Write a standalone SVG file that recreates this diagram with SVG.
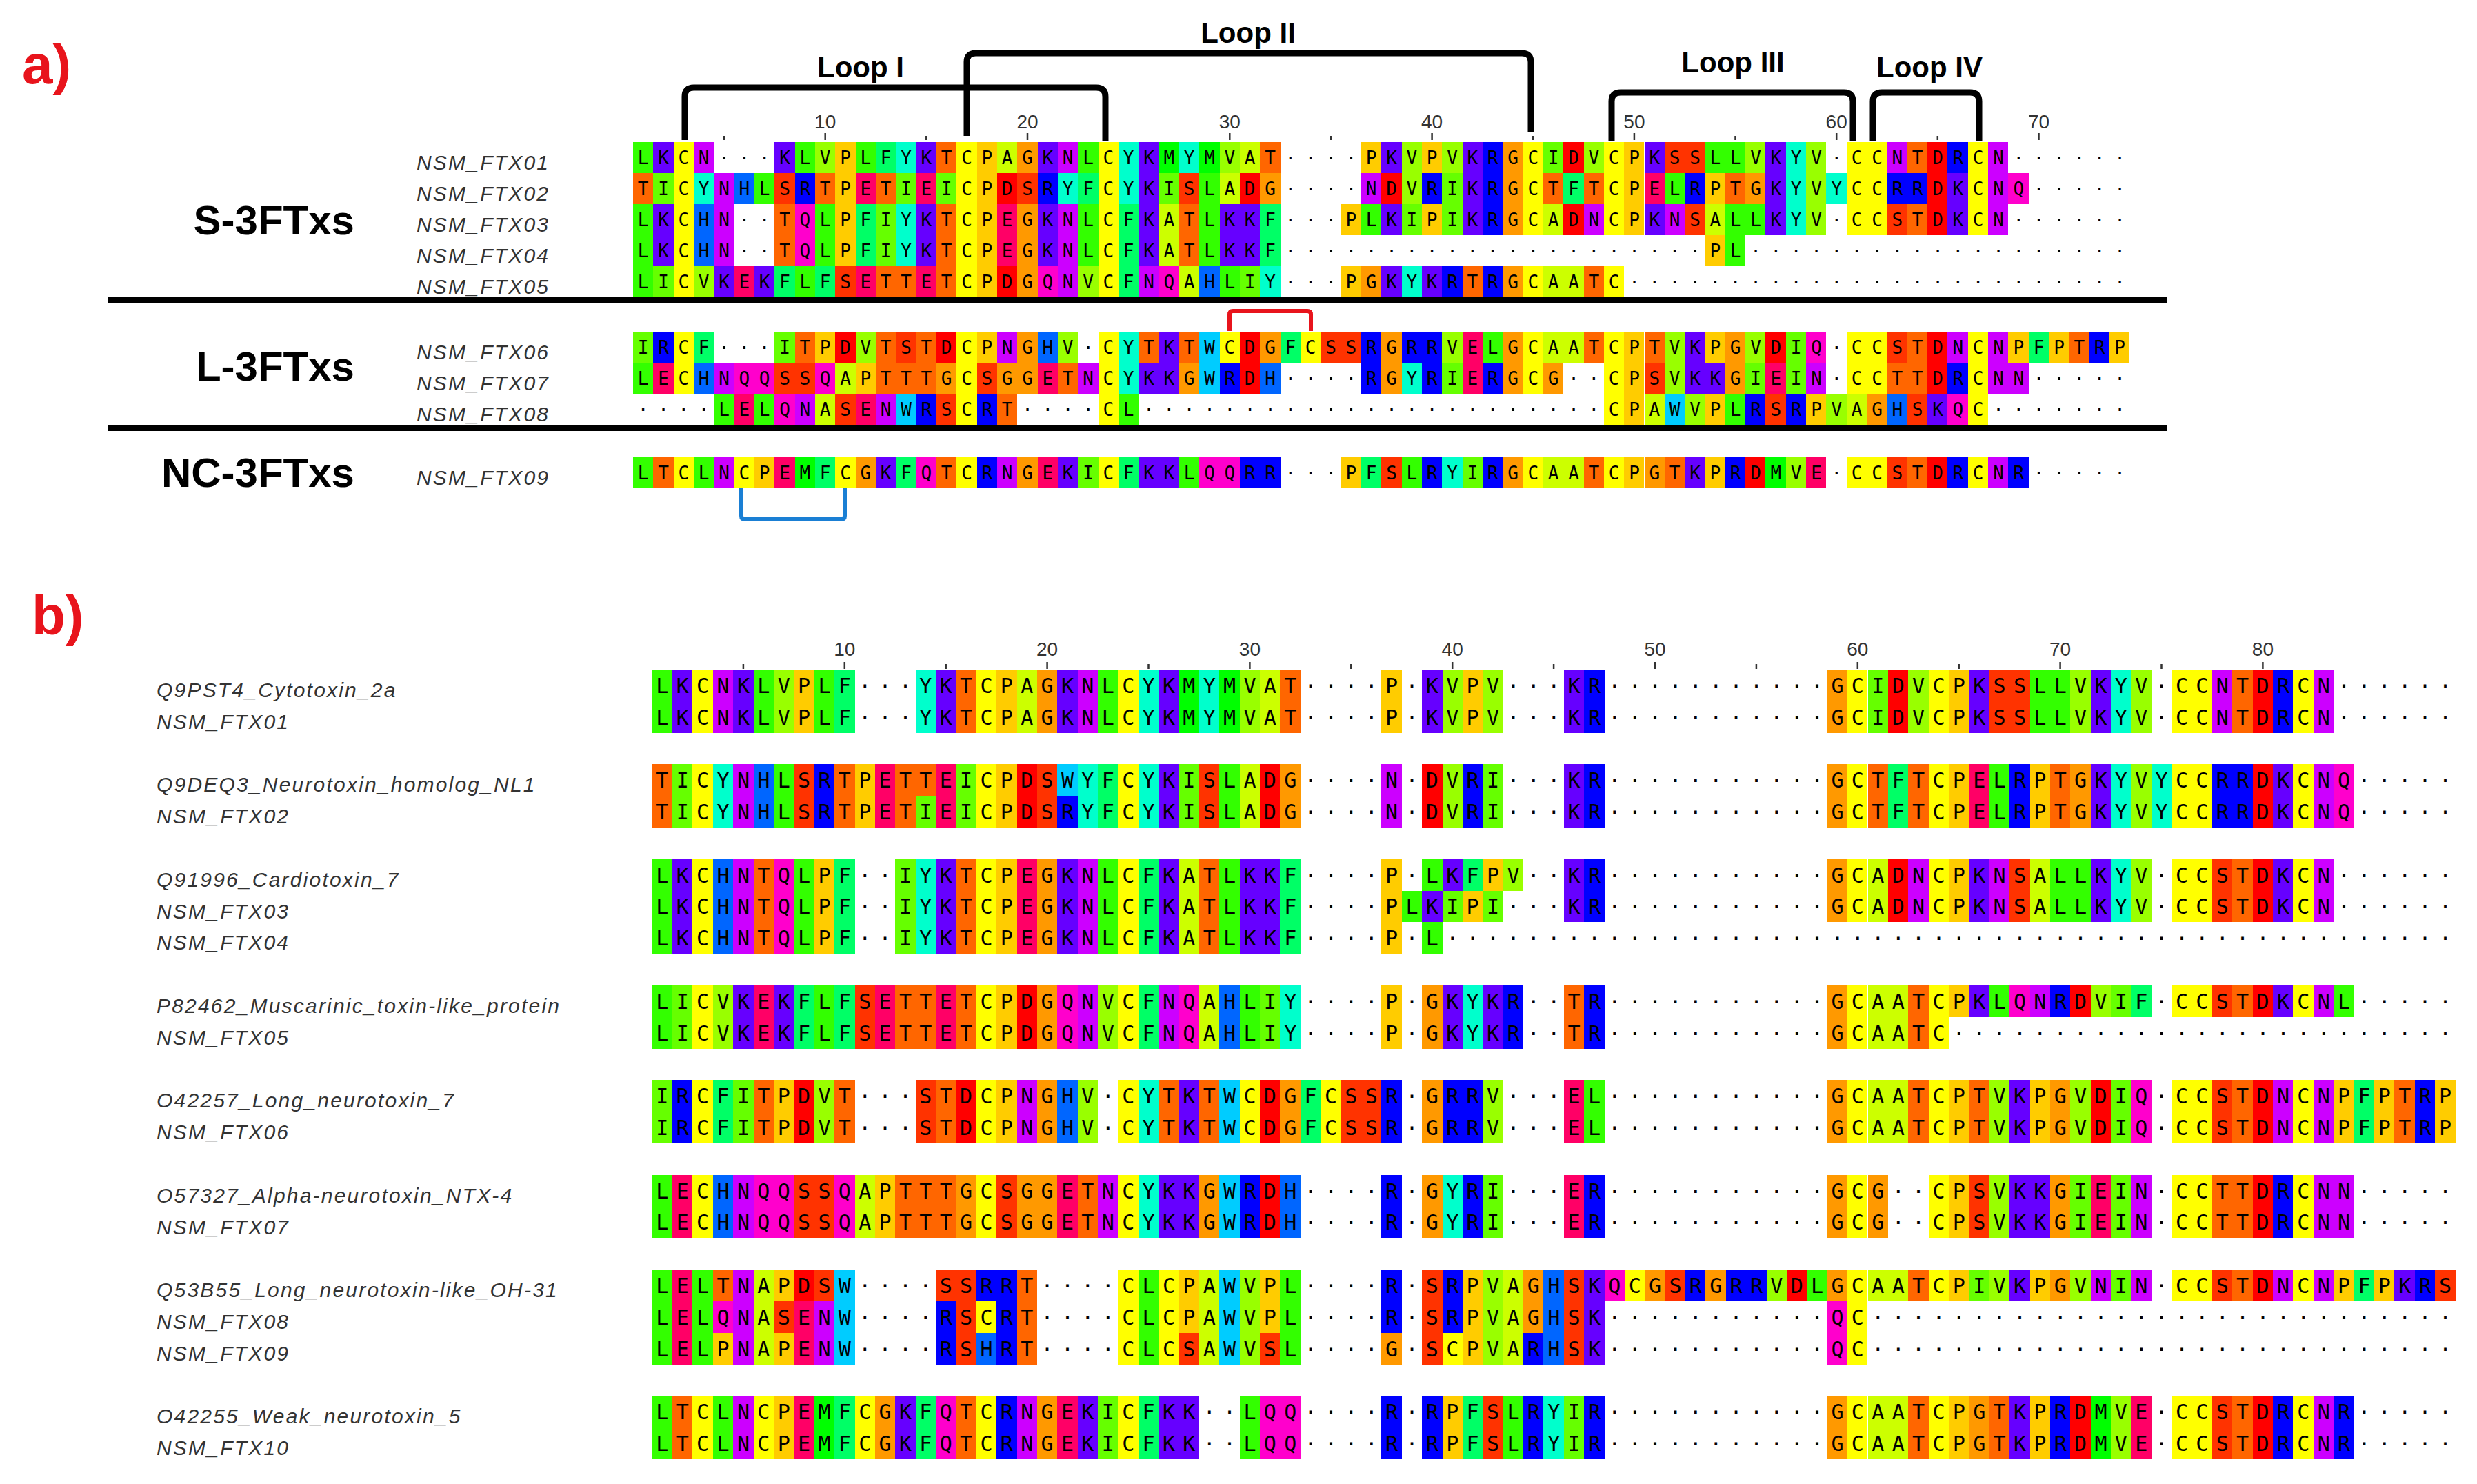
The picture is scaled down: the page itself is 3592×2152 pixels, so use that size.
<svg xmlns="http://www.w3.org/2000/svg" width="3592" height="2152" viewBox="0 0 3592 2152">
<style>
.lab{font-family:"Liberation Sans",Arial,sans-serif;font-style:italic;font-size:30px;letter-spacing:2.2px;fill:#333}
.grp{font-family:"Liberation Sans",Arial,sans-serif;font-weight:bold;font-size:60px;fill:#000;text-anchor:end}
.loop{font-family:"Liberation Sans",Arial,sans-serif;font-weight:bold;font-size:42px;fill:#000;text-anchor:middle}
.num{font-family:"Liberation Sans",Arial,sans-serif;font-size:28px;fill:#333;text-anchor:middle}
.pl{font-family:"Liberation Sans",Arial,sans-serif;font-weight:bold;font-size:80px;fill:#e8141c}
.sa{font-family:"DejaVu Sans Mono",monospace;font-size:26px;letter-spacing:13.68px;fill:#000}
.sb{font-family:"DejaVu Sans Mono",monospace;font-size:30px;letter-spacing:11.32px;fill:#000}
.br{fill:none;stroke:#000;stroke-width:9}
.tk{fill:none;stroke:#333;stroke-width:2.5}
</style>
<defs>
<rect id="A" width="1" height="1" fill="#CCFF00"/>
<rect id="R" width="1" height="1" fill="#0000FF"/>
<rect id="N" width="1" height="1" fill="#CC00FF"/>
<rect id="D" width="1" height="1" fill="#FF0000"/>
<rect id="C" width="1" height="1" fill="#FFFF00"/>
<rect id="Q" width="1" height="1" fill="#FF00CC"/>
<rect id="E" width="1" height="1" fill="#FF0066"/>
<rect id="G" width="1" height="1" fill="#FF9900"/>
<rect id="H" width="1" height="1" fill="#0066FF"/>
<rect id="I" width="1" height="1" fill="#66FF00"/>
<rect id="L" width="1" height="1" fill="#33FF00"/>
<rect id="K" width="1" height="1" fill="#6600FF"/>
<rect id="M" width="1" height="1" fill="#00FF00"/>
<rect id="F" width="1" height="1" fill="#00FF66"/>
<rect id="P" width="1" height="1" fill="#FFCC00"/>
<rect id="S" width="1" height="1" fill="#FF3300"/>
<rect id="T" width="1" height="1" fill="#FF6600"/>
<rect id="W" width="1" height="1" fill="#00CCFF"/>
<rect id="Y" width="1" height="1" fill="#00FFCC"/>
<rect id="V" width="1" height="1" fill="#99FF00"/>
</defs>
<rect width="3592" height="2152" fill="#fff"/>

<g id="panel-a">
<text class="pl" x="32" y="121">a)</text>
<g id="cells-a" transform="translate(918,206) scale(29.33,45)" shape-rendering="crispEdges">
<g id="a1"><use href="#L" x="0"/><use href="#K" x="1"/><use href="#C" x="2"/><use href="#N" x="3"/><use href="#K" x="7"/><use href="#L" x="8"/><use href="#V" x="9"/><use href="#P" x="10"/><use href="#L" x="11"/><use href="#F" x="12"/><use href="#Y" x="13"/><use href="#K" x="14"/><use href="#T" x="15"/><use href="#C" x="16"/><use href="#P" x="17"/><use href="#A" x="18"/><use href="#G" x="19"/><use href="#K" x="20"/><use href="#N" x="21"/><use href="#L" x="22"/><use href="#C" x="23"/><use href="#Y" x="24"/><use href="#K" x="25"/><use href="#M" x="26"/><use href="#Y" x="27"/><use href="#M" x="28"/><use href="#V" x="29"/><use href="#A" x="30"/><use href="#T" x="31"/><use href="#P" x="36"/><use href="#K" x="37"/><use href="#V" x="38"/><use href="#P" x="39"/><use href="#V" x="40"/><use href="#K" x="41"/><use href="#R" x="42"/><use href="#G" x="43"/><use href="#C" x="44"/><use href="#I" x="45"/><use href="#D" x="46"/><use href="#V" x="47"/><use href="#C" x="48"/><use href="#P" x="49"/><use href="#K" x="50"/><use href="#S" x="51"/><use href="#S" x="52"/><use href="#L" x="53"/><use href="#L" x="54"/><use href="#V" x="55"/><use href="#K" x="56"/><use href="#Y" x="57"/><use href="#V" x="58"/><use href="#C" x="60"/><use href="#C" x="61"/><use href="#N" x="62"/><use href="#T" x="63"/><use href="#D" x="64"/><use href="#R" x="65"/><use href="#C" x="66"/><use href="#N" x="67"/></g>
<g id="a2" transform="translate(0,1)"><use href="#T" x="0"/><use href="#I" x="1"/><use href="#C" x="2"/><use href="#Y" x="3"/><use href="#N" x="4"/><use href="#H" x="5"/><use href="#L" x="6"/><use href="#S" x="7"/><use href="#R" x="8"/><use href="#T" x="9"/><use href="#P" x="10"/><use href="#E" x="11"/><use href="#T" x="12"/><use href="#I" x="13"/><use href="#E" x="14"/><use href="#I" x="15"/><use href="#C" x="16"/><use href="#P" x="17"/><use href="#D" x="18"/><use href="#S" x="19"/><use href="#R" x="20"/><use href="#Y" x="21"/><use href="#F" x="22"/><use href="#C" x="23"/><use href="#Y" x="24"/><use href="#K" x="25"/><use href="#I" x="26"/><use href="#S" x="27"/><use href="#L" x="28"/><use href="#A" x="29"/><use href="#D" x="30"/><use href="#G" x="31"/><use href="#N" x="36"/><use href="#D" x="37"/><use href="#V" x="38"/><use href="#R" x="39"/><use href="#I" x="40"/><use href="#K" x="41"/><use href="#R" x="42"/><use href="#G" x="43"/><use href="#C" x="44"/><use href="#T" x="45"/><use href="#F" x="46"/><use href="#T" x="47"/><use href="#C" x="48"/><use href="#P" x="49"/><use href="#E" x="50"/><use href="#L" x="51"/><use href="#R" x="52"/><use href="#P" x="53"/><use href="#T" x="54"/><use href="#G" x="55"/><use href="#K" x="56"/><use href="#Y" x="57"/><use href="#V" x="58"/><use href="#Y" x="59"/><use href="#C" x="60"/><use href="#C" x="61"/><use href="#R" x="62"/><use href="#R" x="63"/><use href="#D" x="64"/><use href="#K" x="65"/><use href="#C" x="66"/><use href="#N" x="67"/><use href="#Q" x="68"/></g>
<g transform="translate(0,2)"><g id="a3a"><use href="#L" x="0"/><use href="#K" x="1"/><use href="#C" x="2"/><use href="#H" x="3"/><use href="#N" x="4"/><use href="#T" x="7"/><use href="#Q" x="8"/><use href="#L" x="9"/><use href="#P" x="10"/><use href="#F" x="11"/><use href="#I" x="12"/><use href="#Y" x="13"/><use href="#K" x="14"/><use href="#T" x="15"/><use href="#C" x="16"/><use href="#P" x="17"/><use href="#E" x="18"/><use href="#G" x="19"/><use href="#K" x="20"/><use href="#N" x="21"/><use href="#L" x="22"/><use href="#C" x="23"/><use href="#F" x="24"/><use href="#K" x="25"/><use href="#A" x="26"/><use href="#T" x="27"/><use href="#L" x="28"/><use href="#K" x="29"/><use href="#K" x="30"/><use href="#F" x="31"/></g><use href="#P" x="35"/><use href="#L" x="36"/><use href="#K" x="37"/><use href="#I" x="38"/><use href="#P" x="39"/><use href="#I" x="40"/><use href="#K" x="41"/><use href="#R" x="42"/><use href="#G" x="43"/><use href="#C" x="44"/><use href="#A" x="45"/><use href="#D" x="46"/><use href="#N" x="47"/><use href="#C" x="48"/><use href="#P" x="49"/><use href="#K" x="50"/><use href="#N" x="51"/><use href="#S" x="52"/><use href="#A" x="53"/><use href="#L" x="54"/><use href="#L" x="55"/><use href="#K" x="56"/><use href="#Y" x="57"/><use href="#V" x="58"/><use href="#C" x="60"/><use href="#C" x="61"/><use href="#S" x="62"/><use href="#T" x="63"/><use href="#D" x="64"/><use href="#K" x="65"/><use href="#C" x="66"/><use href="#N" x="67"/></g>
<g id="a4" transform="translate(0,3)"><use href="#a3a"/><use href="#P" x="53"/><use href="#L" x="54"/></g>
<g id="a5" transform="translate(0,4)"><use href="#L" x="0"/><use href="#I" x="1"/><use href="#C" x="2"/><use href="#V" x="3"/><use href="#K" x="4"/><use href="#E" x="5"/><use href="#K" x="6"/><use href="#F" x="7"/><use href="#L" x="8"/><use href="#F" x="9"/><use href="#S" x="10"/><use href="#E" x="11"/><use href="#T" x="12"/><use href="#T" x="13"/><use href="#E" x="14"/><use href="#T" x="15"/><use href="#C" x="16"/><use href="#P" x="17"/><use href="#D" x="18"/><use href="#G" x="19"/><use href="#Q" x="20"/><use href="#N" x="21"/><use href="#V" x="22"/><use href="#C" x="23"/><use href="#F" x="24"/><use href="#N" x="25"/><use href="#Q" x="26"/><use href="#A" x="27"/><use href="#H" x="28"/><use href="#L" x="29"/><use href="#I" x="30"/><use href="#Y" x="31"/><use href="#P" x="35"/><use href="#G" x="36"/><use href="#K" x="37"/><use href="#Y" x="38"/><use href="#K" x="39"/><use href="#R" x="40"/><use href="#T" x="41"/><use href="#R" x="42"/><use href="#G" x="43"/><use href="#C" x="44"/><use href="#A" x="45"/><use href="#A" x="46"/><use href="#T" x="47"/><use href="#C" x="48"/></g>
<g id="a6" transform="translate(0,6.11)"><use href="#I" x="0"/><use href="#R" x="1"/><use href="#C" x="2"/><use href="#F" x="3"/><use href="#I" x="7"/><use href="#T" x="8"/><use href="#P" x="9"/><use href="#D" x="10"/><use href="#V" x="11"/><use href="#T" x="12"/><use href="#S" x="13"/><use href="#T" x="14"/><use href="#D" x="15"/><use href="#C" x="16"/><use href="#P" x="17"/><use href="#N" x="18"/><use href="#G" x="19"/><use href="#H" x="20"/><use href="#V" x="21"/><use href="#C" x="23"/><use href="#Y" x="24"/><use href="#T" x="25"/><use href="#K" x="26"/><use href="#T" x="27"/><use href="#W" x="28"/><use href="#C" x="29"/><use href="#D" x="30"/><use href="#G" x="31"/><use href="#F" x="32"/><use href="#C" x="33"/><use href="#S" x="34"/><use href="#S" x="35"/><use href="#R" x="36"/><use href="#G" x="37"/><use href="#R" x="38"/><use href="#R" x="39"/><use href="#V" x="40"/><use href="#E" x="41"/><use href="#L" x="42"/><use href="#G" x="43"/><use href="#C" x="44"/><use href="#A" x="45"/><use href="#A" x="46"/><use href="#T" x="47"/><use href="#C" x="48"/><use href="#P" x="49"/><use href="#T" x="50"/><use href="#V" x="51"/><use href="#K" x="52"/><use href="#P" x="53"/><use href="#G" x="54"/><use href="#V" x="55"/><use href="#D" x="56"/><use href="#I" x="57"/><use href="#Q" x="58"/><use href="#C" x="60"/><use href="#C" x="61"/><use href="#S" x="62"/><use href="#T" x="63"/><use href="#D" x="64"/><use href="#N" x="65"/><use href="#C" x="66"/><use href="#N" x="67"/><use href="#P" x="68"/><use href="#F" x="69"/><use href="#P" x="70"/><use href="#T" x="71"/><use href="#R" x="72"/><use href="#P" x="73"/></g>
<g id="a7" transform="translate(0,7.11)"><use href="#L" x="0"/><use href="#E" x="1"/><use href="#C" x="2"/><use href="#H" x="3"/><use href="#N" x="4"/><use href="#Q" x="5"/><use href="#Q" x="6"/><use href="#S" x="7"/><use href="#S" x="8"/><use href="#Q" x="9"/><use href="#A" x="10"/><use href="#P" x="11"/><use href="#T" x="12"/><use href="#T" x="13"/><use href="#T" x="14"/><use href="#G" x="15"/><use href="#C" x="16"/><use href="#S" x="17"/><use href="#G" x="18"/><use href="#G" x="19"/><use href="#E" x="20"/><use href="#T" x="21"/><use href="#N" x="22"/><use href="#C" x="23"/><use href="#Y" x="24"/><use href="#K" x="25"/><use href="#K" x="26"/><use href="#G" x="27"/><use href="#W" x="28"/><use href="#R" x="29"/><use href="#D" x="30"/><use href="#H" x="31"/><use href="#R" x="36"/><use href="#G" x="37"/><use href="#Y" x="38"/><use href="#R" x="39"/><use href="#I" x="40"/><use href="#E" x="41"/><use href="#R" x="42"/><use href="#G" x="43"/><use href="#C" x="44"/><use href="#G" x="45"/><use href="#C" x="48"/><use href="#P" x="49"/><use href="#S" x="50"/><use href="#V" x="51"/><use href="#K" x="52"/><use href="#K" x="53"/><use href="#G" x="54"/><use href="#I" x="55"/><use href="#E" x="56"/><use href="#I" x="57"/><use href="#N" x="58"/><use href="#C" x="60"/><use href="#C" x="61"/><use href="#T" x="62"/><use href="#T" x="63"/><use href="#D" x="64"/><use href="#R" x="65"/><use href="#C" x="66"/><use href="#N" x="67"/><use href="#N" x="68"/></g>
<g id="a8" transform="translate(0,8.11)"><use href="#L" x="4"/><use href="#E" x="5"/><use href="#L" x="6"/><use href="#Q" x="7"/><use href="#N" x="8"/><use href="#A" x="9"/><use href="#S" x="10"/><use href="#E" x="11"/><use href="#N" x="12"/><use href="#W" x="13"/><use href="#R" x="14"/><use href="#S" x="15"/><use href="#C" x="16"/><use href="#R" x="17"/><use href="#T" x="18"/><use href="#C" x="23"/><use href="#L" x="24"/><use href="#C" x="48"/><use href="#P" x="49"/><use href="#A" x="50"/><use href="#W" x="51"/><use href="#V" x="52"/><use href="#P" x="53"/><use href="#L" x="54"/><use href="#R" x="55"/><use href="#S" x="56"/><use href="#R" x="57"/><use href="#P" x="58"/><use href="#V" x="59"/><use href="#A" x="60"/><use href="#G" x="61"/><use href="#H" x="62"/><use href="#S" x="63"/><use href="#K" x="64"/><use href="#Q" x="65"/><use href="#C" x="66"/></g>
<g id="a9" transform="translate(0,10.16)"><use href="#L" x="0"/><use href="#T" x="1"/><use href="#C" x="2"/><use href="#L" x="3"/><use href="#N" x="4"/><use href="#C" x="5"/><use href="#P" x="6"/><use href="#E" x="7"/><use href="#M" x="8"/><use href="#F" x="9"/><use href="#C" x="10"/><use href="#G" x="11"/><use href="#K" x="12"/><use href="#F" x="13"/><use href="#Q" x="14"/><use href="#T" x="15"/><use href="#C" x="16"/><use href="#R" x="17"/><use href="#N" x="18"/><use href="#G" x="19"/><use href="#E" x="20"/><use href="#K" x="21"/><use href="#I" x="22"/><use href="#C" x="23"/><use href="#F" x="24"/><use href="#K" x="25"/><use href="#K" x="26"/><use href="#L" x="27"/><use href="#Q" x="28"/><use href="#Q" x="29"/><use href="#R" x="30"/><use href="#R" x="31"/><use href="#P" x="35"/><use href="#F" x="36"/><use href="#S" x="37"/><use href="#L" x="38"/><use href="#R" x="39"/><use href="#Y" x="40"/><use href="#I" x="41"/><use href="#R" x="42"/><use href="#G" x="43"/><use href="#C" x="44"/><use href="#A" x="45"/><use href="#A" x="46"/><use href="#T" x="47"/><use href="#C" x="48"/><use href="#P" x="49"/><use href="#G" x="50"/><use href="#T" x="51"/><use href="#K" x="52"/><use href="#P" x="53"/><use href="#R" x="54"/><use href="#D" x="55"/><use href="#M" x="56"/><use href="#V" x="57"/><use href="#E" x="58"/><use href="#C" x="60"/><use href="#C" x="61"/><use href="#S" x="62"/><use href="#T" x="63"/><use href="#D" x="64"/><use href="#R" x="65"/><use href="#C" x="66"/><use href="#N" x="67"/><use href="#R" x="68"/></g>
</g>
<g id="seq-a">
<text class="sa" x="924.84" y="238">LKCN···KLVPLFYKTCPAGKNLCYKMYMVAT····PKVPVKRGCIDVCPKSSLLVKYV·CCNTDRCN······</text>
<text class="sa" x="924.84" y="283">TICYNHLSRTPETIEICPDSRYFCYKISLADG····NDVRIKRGCTFTCPELRPTGKYVYCCRRDKCNQ·····</text>
<text class="sa" x="924.84" y="328">LKCHN··TQLPFIYKTCPEGKNLCFKATLKKF···PLKIPIKRGCADNCPKNSALLKYV·CCSTDKCN······</text>
<text class="sa" x="924.84" y="373">LKCHN··TQLPFIYKTCPEGKNLCFKATLKKF·····················PL···················</text>
<text class="sa" x="924.84" y="418">LICVKEKFLFSETTETCPDGQNVCFNQAHLIY···PGKYKRTRGCAATC·························</text>
<text class="sa" x="924.84" y="513">IRCF···ITPDVTSTDCPNGHV·CYTKTWCDGFCSSRGRRVELGCAATCPTVKPGVDIQ·CCSTDNCNPFPTRP</text>
<text class="sa" x="924.84" y="558">LECHNQQSSQAPTTTGCSGGETNCYKKGWRDH····RGYRIERGCG··CPSVKKGIEIN·CCTTDRCNN·····</text>
<text class="sa" x="924.84" y="603">····LELQNASENWRSCRT····CL·······················CPAWVPLRSRPVAGHSKQC·······</text>
<text class="sa" x="924.84" y="695">LTCLNCPEMFCGKFQTCRNGEKICFKKLQQRR···PFSLRYIRGCAATCPGTKPRDMVE·CCSTDRCNR·····</text>
</g>
<g id="labels-a">
<text class="lab" x="604" y="245.5">NSM_FTX01</text>
<text class="lab" x="604" y="290.5">NSM_FTX02</text>
<text class="lab" x="604" y="335.5">NSM_FTX03</text>
<text class="lab" x="604" y="380.5">NSM_FTX04</text>
<text class="lab" x="604" y="425.5">NSM_FTX05</text>
<text class="lab" x="604" y="520.5">NSM_FTX06</text>
<text class="lab" x="604" y="565.5">NSM_FTX07</text>
<text class="lab" x="604" y="610.5">NSM_FTX08</text>
<text class="lab" x="604" y="702.7">NSM_FTX09</text>
<text class="grp" x="514" y="340">S-3FTxs</text>
<text class="grp" x="514" y="552">L-3FTxs</text>
<text class="grp" x="514" y="706">NC-3FTxs</text>
</g>
<g id="separators">
<rect x="157" y="431" width="2986" height="8" fill="#000"/>
<rect x="157" y="617" width="2986" height="8" fill="#000"/>
</g>
<g id="ruler-a">
<path class="tk" d="M1196.7 193v10M1490 193v10M1783.3 193v10M2076.6 193v10M2369.9 193v10M2663.2 193v10M2956.5 193v10M1050 197v6M1343.3 197v6M1929.9 197v6M2223.2 197v6M2516.5 197v6M2809.8 197v6"/>
<text class="num" x="1196.7" y="186">10</text>
<text class="num" x="1490" y="186">20</text>
<text class="num" x="1783.3" y="186">30</text>
<text class="num" x="2076.6" y="186">40</text>
<text class="num" x="2369.9" y="186">50</text>
<text class="num" x="2663.2" y="186">60</text>
<text class="num" x="2956.5" y="186">70</text>
</g>
<g id="loops">
<path class="br" d="M993 203V140Q993 127 1006 127H1590Q1603 127 1603 140V205"/>
<path class="br" d="M1402 197V90Q1402 77 1415 77H2207Q2220 77 2220 90V192"/>
<path class="br" d="M2337 205V147Q2337 134 2350 134H2674Q2687 134 2687 147V205"/>
<path class="br" d="M2716 205V147Q2716 134 2729 134H2857Q2870 134 2870 147V205"/>
<text class="loop" x="1248" y="112">Loop I</text>
<text class="loop" x="1810" y="62">Loop II</text>
<text class="loop" x="2513" y="105">Loop III</text>
<text class="loop" x="2798" y="112">Loop IV</text>
<path d="M1783 480V456Q1783 451 1788 451H1896Q1901 451 1901 456V480" fill="none" stroke="#e8141c" stroke-width="6"/>
<path d="M1075 708V748Q1075 753 1080 753H1220Q1225 753 1225 748V708" fill="none" stroke="#1a7fd4" stroke-width="6"/>
</g>
</g>

<g id="panel-b">
<text class="pl" x="46" y="920">b)</text>
<g id="cells-b" transform="translate(945.7,971) scale(29.38,45.8)" shape-rendering="crispEdges">
<g id="b1"><use href="#L" x="0"/><use href="#K" x="1"/><use href="#C" x="2"/><use href="#N" x="3"/><use href="#K" x="4"/><use href="#L" x="5"/><use href="#V" x="6"/><use href="#P" x="7"/><use href="#L" x="8"/><use href="#F" x="9"/><use href="#Y" x="13"/><use href="#K" x="14"/><use href="#T" x="15"/><use href="#C" x="16"/><use href="#P" x="17"/><use href="#A" x="18"/><use href="#G" x="19"/><use href="#K" x="20"/><use href="#N" x="21"/><use href="#L" x="22"/><use href="#C" x="23"/><use href="#Y" x="24"/><use href="#K" x="25"/><use href="#M" x="26"/><use href="#Y" x="27"/><use href="#M" x="28"/><use href="#V" x="29"/><use href="#A" x="30"/><use href="#T" x="31"/><use href="#P" x="36"/><use href="#K" x="38"/><use href="#V" x="39"/><use href="#P" x="40"/><use href="#V" x="41"/><use href="#K" x="45"/><use href="#R" x="46"/><use href="#G" x="58"/><use href="#C" x="59"/><use href="#I" x="60"/><use href="#D" x="61"/><use href="#V" x="62"/><use href="#C" x="63"/><use href="#P" x="64"/><use href="#K" x="65"/><use href="#S" x="66"/><use href="#S" x="67"/><use href="#L" x="68"/><use href="#L" x="69"/><use href="#V" x="70"/><use href="#K" x="71"/><use href="#Y" x="72"/><use href="#V" x="73"/><use href="#C" x="75"/><use href="#C" x="76"/><use href="#N" x="77"/><use href="#T" x="78"/><use href="#D" x="79"/><use href="#R" x="80"/><use href="#C" x="81"/><use href="#N" x="82"/></g>
<g transform="translate(0,1)"><use href="#b1"/></g>
<g transform="translate(0,3)"><g id="b3"><use href="#T" x="0"/><use href="#I" x="1"/><use href="#C" x="2"/><use href="#Y" x="3"/><use href="#N" x="4"/><use href="#H" x="5"/><use href="#L" x="6"/><use href="#S" x="7"/><use href="#R" x="8"/><use href="#T" x="9"/><use href="#P" x="10"/><use href="#E" x="11"/><use href="#T" x="12"/><use href="#T" x="13"/><use href="#E" x="14"/><use href="#I" x="15"/><use href="#C" x="16"/><use href="#P" x="17"/><use href="#D" x="18"/><use href="#S" x="19"/><use href="#W" x="20"/><use href="#Y" x="21"/><use href="#F" x="22"/><use href="#C" x="23"/><use href="#Y" x="24"/><use href="#K" x="25"/><use href="#I" x="26"/><use href="#S" x="27"/><use href="#L" x="28"/><use href="#A" x="29"/><use href="#D" x="30"/><use href="#G" x="31"/><use href="#N" x="36"/><use href="#D" x="38"/><use href="#V" x="39"/><use href="#R" x="40"/><use href="#I" x="41"/><use href="#K" x="45"/><use href="#R" x="46"/><use href="#G" x="58"/><use href="#C" x="59"/><use href="#T" x="60"/><use href="#F" x="61"/><use href="#T" x="62"/><use href="#C" x="63"/><use href="#P" x="64"/><use href="#E" x="65"/><use href="#L" x="66"/><use href="#R" x="67"/><use href="#P" x="68"/><use href="#T" x="69"/><use href="#G" x="70"/><use href="#K" x="71"/><use href="#Y" x="72"/><use href="#V" x="73"/><use href="#Y" x="74"/><use href="#C" x="75"/><use href="#C" x="76"/><use href="#R" x="77"/><use href="#R" x="78"/><use href="#D" x="79"/><use href="#K" x="80"/><use href="#C" x="81"/><use href="#N" x="82"/><use href="#Q" x="83"/></g></g>
<g transform="translate(0,4)"><use href="#b3"/><use href="#I" x="13"/><use href="#R" x="20"/></g>
<g transform="translate(0,6)"><g id="b5a"><use href="#L" x="0"/><use href="#K" x="1"/><use href="#C" x="2"/><use href="#H" x="3"/><use href="#N" x="4"/><use href="#T" x="5"/><use href="#Q" x="6"/><use href="#L" x="7"/><use href="#P" x="8"/><use href="#F" x="9"/><use href="#I" x="12"/><use href="#Y" x="13"/><use href="#K" x="14"/><use href="#T" x="15"/><use href="#C" x="16"/><use href="#P" x="17"/><use href="#E" x="18"/><use href="#G" x="19"/><use href="#K" x="20"/><use href="#N" x="21"/><use href="#L" x="22"/><use href="#C" x="23"/><use href="#F" x="24"/><use href="#K" x="25"/><use href="#A" x="26"/><use href="#T" x="27"/><use href="#L" x="28"/><use href="#K" x="29"/><use href="#K" x="30"/><use href="#F" x="31"/><use href="#P" x="36"/></g><use href="#L" x="38"/><use href="#K" x="39"/><use href="#F" x="40"/><use href="#P" x="41"/><use href="#V" x="42"/><g id="b5c"><use href="#K" x="45"/><use href="#R" x="46"/><use href="#G" x="58"/><use href="#C" x="59"/><use href="#A" x="60"/><use href="#D" x="61"/><use href="#N" x="62"/><use href="#C" x="63"/><use href="#P" x="64"/><use href="#K" x="65"/><use href="#N" x="66"/><use href="#S" x="67"/><use href="#A" x="68"/><use href="#L" x="69"/><use href="#L" x="70"/><use href="#K" x="71"/><use href="#Y" x="72"/><use href="#V" x="73"/><use href="#C" x="75"/><use href="#C" x="76"/><use href="#S" x="77"/><use href="#T" x="78"/><use href="#D" x="79"/><use href="#K" x="80"/><use href="#C" x="81"/><use href="#N" x="82"/></g></g>
<g transform="translate(0,7)"><use href="#b5a"/><use href="#L" x="37"/><use href="#K" x="38"/><use href="#I" x="39"/><use href="#P" x="40"/><use href="#I" x="41"/><use href="#b5c"/></g>
<g transform="translate(0,8)"><use href="#b5a"/><use href="#L" x="38"/></g>
<g transform="translate(0,10)"><g id="b8a"><use href="#L" x="0"/><use href="#I" x="1"/><use href="#C" x="2"/><use href="#V" x="3"/><use href="#K" x="4"/><use href="#E" x="5"/><use href="#K" x="6"/><use href="#F" x="7"/><use href="#L" x="8"/><use href="#F" x="9"/><use href="#S" x="10"/><use href="#E" x="11"/><use href="#T" x="12"/><use href="#T" x="13"/><use href="#E" x="14"/><use href="#T" x="15"/><use href="#C" x="16"/><use href="#P" x="17"/><use href="#D" x="18"/><use href="#G" x="19"/><use href="#Q" x="20"/><use href="#N" x="21"/><use href="#V" x="22"/><use href="#C" x="23"/><use href="#F" x="24"/><use href="#N" x="25"/><use href="#Q" x="26"/><use href="#A" x="27"/><use href="#H" x="28"/><use href="#L" x="29"/><use href="#I" x="30"/><use href="#Y" x="31"/><use href="#P" x="36"/><use href="#G" x="38"/><use href="#K" x="39"/><use href="#Y" x="40"/><use href="#K" x="41"/><use href="#R" x="42"/><use href="#T" x="45"/><use href="#R" x="46"/><use href="#G" x="58"/><use href="#C" x="59"/><use href="#A" x="60"/><use href="#A" x="61"/><use href="#T" x="62"/><use href="#C" x="63"/></g><use href="#P" x="64"/><use href="#K" x="65"/><use href="#L" x="66"/><use href="#Q" x="67"/><use href="#N" x="68"/><use href="#R" x="69"/><use href="#D" x="70"/><use href="#V" x="71"/><use href="#I" x="72"/><use href="#F" x="73"/><use href="#C" x="75"/><use href="#C" x="76"/><use href="#S" x="77"/><use href="#T" x="78"/><use href="#D" x="79"/><use href="#K" x="80"/><use href="#C" x="81"/><use href="#N" x="82"/><use href="#L" x="83"/></g>
<g transform="translate(0,11)"><use href="#b8a"/></g>
<g transform="translate(0,13)"><g id="b10"><use href="#I" x="0"/><use href="#R" x="1"/><use href="#C" x="2"/><use href="#F" x="3"/><use href="#I" x="4"/><use href="#T" x="5"/><use href="#P" x="6"/><use href="#D" x="7"/><use href="#V" x="8"/><use href="#T" x="9"/><use href="#S" x="13"/><use href="#T" x="14"/><use href="#D" x="15"/><use href="#C" x="16"/><use href="#P" x="17"/><use href="#N" x="18"/><use href="#G" x="19"/><use href="#H" x="20"/><use href="#V" x="21"/><use href="#C" x="23"/><use href="#Y" x="24"/><use href="#T" x="25"/><use href="#K" x="26"/><use href="#T" x="27"/><use href="#W" x="28"/><use href="#C" x="29"/><use href="#D" x="30"/><use href="#G" x="31"/><use href="#F" x="32"/><use href="#C" x="33"/><use href="#S" x="34"/><use href="#S" x="35"/><use href="#R" x="36"/><use href="#G" x="38"/><use href="#R" x="39"/><use href="#R" x="40"/><use href="#V" x="41"/><use href="#E" x="45"/><use href="#L" x="46"/><use href="#G" x="58"/><use href="#C" x="59"/><use href="#A" x="60"/><use href="#A" x="61"/><use href="#T" x="62"/><use href="#C" x="63"/><use href="#P" x="64"/><use href="#T" x="65"/><use href="#V" x="66"/><use href="#K" x="67"/><use href="#P" x="68"/><use href="#G" x="69"/><use href="#V" x="70"/><use href="#D" x="71"/><use href="#I" x="72"/><use href="#Q" x="73"/><use href="#C" x="75"/><use href="#C" x="76"/><use href="#S" x="77"/><use href="#T" x="78"/><use href="#D" x="79"/><use href="#N" x="80"/><use href="#C" x="81"/><use href="#N" x="82"/><use href="#P" x="83"/><use href="#F" x="84"/><use href="#P" x="85"/><use href="#T" x="86"/><use href="#R" x="87"/><use href="#P" x="88"/></g></g>
<g transform="translate(0,14)"><use href="#b10"/></g>
<g transform="translate(0,16)"><g id="b12"><use href="#L" x="0"/><use href="#E" x="1"/><use href="#C" x="2"/><use href="#H" x="3"/><use href="#N" x="4"/><use href="#Q" x="5"/><use href="#Q" x="6"/><use href="#S" x="7"/><use href="#S" x="8"/><use href="#Q" x="9"/><use href="#A" x="10"/><use href="#P" x="11"/><use href="#T" x="12"/><use href="#T" x="13"/><use href="#T" x="14"/><use href="#G" x="15"/><use href="#C" x="16"/><use href="#S" x="17"/><use href="#G" x="18"/><use href="#G" x="19"/><use href="#E" x="20"/><use href="#T" x="21"/><use href="#N" x="22"/><use href="#C" x="23"/><use href="#Y" x="24"/><use href="#K" x="25"/><use href="#K" x="26"/><use href="#G" x="27"/><use href="#W" x="28"/><use href="#R" x="29"/><use href="#D" x="30"/><use href="#H" x="31"/><use href="#R" x="36"/><use href="#G" x="38"/><use href="#Y" x="39"/><use href="#R" x="40"/><use href="#I" x="41"/><use href="#E" x="45"/><use href="#R" x="46"/><use href="#G" x="58"/><use href="#C" x="59"/><use href="#G" x="60"/><use href="#C" x="63"/><use href="#P" x="64"/><use href="#S" x="65"/><use href="#V" x="66"/><use href="#K" x="67"/><use href="#K" x="68"/><use href="#G" x="69"/><use href="#I" x="70"/><use href="#E" x="71"/><use href="#I" x="72"/><use href="#N" x="73"/><use href="#C" x="75"/><use href="#C" x="76"/><use href="#T" x="77"/><use href="#T" x="78"/><use href="#D" x="79"/><use href="#R" x="80"/><use href="#C" x="81"/><use href="#N" x="82"/><use href="#N" x="83"/></g></g>
<g transform="translate(0,17)"><use href="#b12"/></g>
<g id="b14" transform="translate(0,19)"><use href="#L" x="0"/><use href="#E" x="1"/><use href="#L" x="2"/><use href="#T" x="3"/><use href="#N" x="4"/><use href="#A" x="5"/><use href="#P" x="6"/><use href="#D" x="7"/><use href="#S" x="8"/><use href="#W" x="9"/><use href="#S" x="14"/><use href="#S" x="15"/><use href="#R" x="16"/><use href="#R" x="17"/><use href="#T" x="18"/><use href="#C" x="23"/><use href="#L" x="24"/><use href="#C" x="25"/><use href="#P" x="26"/><use href="#A" x="27"/><use href="#W" x="28"/><use href="#V" x="29"/><use href="#P" x="30"/><use href="#L" x="31"/><use href="#R" x="36"/><use href="#S" x="38"/><use href="#R" x="39"/><use href="#P" x="40"/><use href="#V" x="41"/><use href="#A" x="42"/><use href="#G" x="43"/><use href="#H" x="44"/><use href="#S" x="45"/><use href="#K" x="46"/><use href="#Q" x="47"/><use href="#C" x="48"/><use href="#G" x="49"/><use href="#S" x="50"/><use href="#R" x="51"/><use href="#G" x="52"/><use href="#R" x="53"/><use href="#R" x="54"/><use href="#V" x="55"/><use href="#D" x="56"/><use href="#L" x="57"/><use href="#G" x="58"/><use href="#C" x="59"/><use href="#A" x="60"/><use href="#A" x="61"/><use href="#T" x="62"/><use href="#C" x="63"/><use href="#P" x="64"/><use href="#I" x="65"/><use href="#V" x="66"/><use href="#K" x="67"/><use href="#P" x="68"/><use href="#G" x="69"/><use href="#V" x="70"/><use href="#N" x="71"/><use href="#I" x="72"/><use href="#N" x="73"/><use href="#C" x="75"/><use href="#C" x="76"/><use href="#S" x="77"/><use href="#T" x="78"/><use href="#D" x="79"/><use href="#N" x="80"/><use href="#C" x="81"/><use href="#N" x="82"/><use href="#P" x="83"/><use href="#F" x="84"/><use href="#P" x="85"/><use href="#K" x="86"/><use href="#R" x="87"/><use href="#S" x="88"/></g>
<g id="b15" transform="translate(0,20)"><use href="#L" x="0"/><use href="#E" x="1"/><use href="#L" x="2"/><use href="#Q" x="3"/><use href="#N" x="4"/><use href="#A" x="5"/><use href="#S" x="6"/><use href="#E" x="7"/><use href="#N" x="8"/><use href="#W" x="9"/><use href="#R" x="14"/><use href="#S" x="15"/><use href="#C" x="16"/><use href="#R" x="17"/><use href="#T" x="18"/><use href="#C" x="23"/><use href="#L" x="24"/><use href="#C" x="25"/><use href="#P" x="26"/><use href="#A" x="27"/><use href="#W" x="28"/><use href="#V" x="29"/><use href="#P" x="30"/><use href="#L" x="31"/><use href="#R" x="36"/><use href="#S" x="38"/><use href="#R" x="39"/><use href="#P" x="40"/><use href="#V" x="41"/><use href="#A" x="42"/><use href="#G" x="43"/><use href="#H" x="44"/><use href="#S" x="45"/><use href="#K" x="46"/><use href="#Q" x="58"/><use href="#C" x="59"/></g>
<g id="b16" transform="translate(0,21)"><use href="#L" x="0"/><use href="#E" x="1"/><use href="#L" x="2"/><use href="#P" x="3"/><use href="#N" x="4"/><use href="#A" x="5"/><use href="#P" x="6"/><use href="#E" x="7"/><use href="#N" x="8"/><use href="#W" x="9"/><use href="#R" x="14"/><use href="#S" x="15"/><use href="#H" x="16"/><use href="#R" x="17"/><use href="#T" x="18"/><use href="#C" x="23"/><use href="#L" x="24"/><use href="#C" x="25"/><use href="#S" x="26"/><use href="#A" x="27"/><use href="#W" x="28"/><use href="#V" x="29"/><use href="#S" x="30"/><use href="#L" x="31"/><use href="#G" x="36"/><use href="#S" x="38"/><use href="#C" x="39"/><use href="#P" x="40"/><use href="#V" x="41"/><use href="#A" x="42"/><use href="#R" x="43"/><use href="#H" x="44"/><use href="#S" x="45"/><use href="#K" x="46"/><use href="#Q" x="58"/><use href="#C" x="59"/></g>
<g transform="translate(0,23)"><g id="b17"><use href="#L" x="0"/><use href="#T" x="1"/><use href="#C" x="2"/><use href="#L" x="3"/><use href="#N" x="4"/><use href="#C" x="5"/><use href="#P" x="6"/><use href="#E" x="7"/><use href="#M" x="8"/><use href="#F" x="9"/><use href="#C" x="10"/><use href="#G" x="11"/><use href="#K" x="12"/><use href="#F" x="13"/><use href="#Q" x="14"/><use href="#T" x="15"/><use href="#C" x="16"/><use href="#R" x="17"/><use href="#N" x="18"/><use href="#G" x="19"/><use href="#E" x="20"/><use href="#K" x="21"/><use href="#I" x="22"/><use href="#C" x="23"/><use href="#F" x="24"/><use href="#K" x="25"/><use href="#K" x="26"/><use href="#L" x="29"/><use href="#Q" x="30"/><use href="#Q" x="31"/><use href="#R" x="36"/><use href="#R" x="38"/><use href="#P" x="39"/><use href="#F" x="40"/><use href="#S" x="41"/><use href="#L" x="42"/><use href="#R" x="43"/><use href="#Y" x="44"/><use href="#I" x="45"/><use href="#R" x="46"/><use href="#G" x="58"/><use href="#C" x="59"/><use href="#A" x="60"/><use href="#A" x="61"/><use href="#T" x="62"/><use href="#C" x="63"/><use href="#P" x="64"/><use href="#G" x="65"/><use href="#T" x="66"/><use href="#K" x="67"/><use href="#P" x="68"/><use href="#R" x="69"/><use href="#D" x="70"/><use href="#M" x="71"/><use href="#V" x="72"/><use href="#E" x="73"/><use href="#C" x="75"/><use href="#C" x="76"/><use href="#S" x="77"/><use href="#T" x="78"/><use href="#D" x="79"/><use href="#R" x="80"/><use href="#C" x="81"/><use href="#N" x="82"/><use href="#R" x="83"/></g></g>
<g transform="translate(0,24)"><use href="#b17"/></g>
</g>
<g id="seq-b">
<text class="sb" x="951.36" y="1004.8">LKCNKLVPLF···YKTCPAGKNLCYKMYMVAT····P·KVPV···KR···········GCIDVCPKSSLLVKYV·CCNTDRCN······</text>
<text class="sb" x="951.36" y="1050.6">LKCNKLVPLF···YKTCPAGKNLCYKMYMVAT····P·KVPV···KR···········GCIDVCPKSSLLVKYV·CCNTDRCN······</text>
<text class="sb" x="951.36" y="1142.2">TICYNHLSRTPETTEICPDSWYFCYKISLADG····N·DVRI···KR···········GCTFTCPELRPTGKYVYCCRRDKCNQ·····</text>
<text class="sb" x="951.36" y="1188">TICYNHLSRTPETIEICPDSRYFCYKISLADG····N·DVRI···KR···········GCTFTCPELRPTGKYVYCCRRDKCNQ·····</text>
<text class="sb" x="951.36" y="1279.6">LKCHNTQLPF··IYKTCPEGKNLCFKATLKKF····P·LKFPV··KR···········GCADNCPKNSALLKYV·CCSTDKCN······</text>
<text class="sb" x="951.36" y="1325.4">LKCHNTQLPF··IYKTCPEGKNLCFKATLKKF····PLKIPI···KR···········GCADNCPKNSALLKYV·CCSTDKCN······</text>
<text class="sb" x="951.36" y="1371.2">LKCHNTQLPF··IYKTCPEGKNLCFKATLKKF····P·L··················································</text>
<text class="sb" x="951.36" y="1462.8">LICVKEKFLFSETTETCPDGQNVCFNQAHLIY····P·GKYKR··TR···········GCAATCPKLQNRDVIF·CCSTDKCNL·····</text>
<text class="sb" x="951.36" y="1508.6">LICVKEKFLFSETTETCPDGQNVCFNQAHLIY····P·GKYKR··TR···········GCAATC·························</text>
<text class="sb" x="951.36" y="1600.2">IRCFITPDVT···STDCPNGHV·CYTKTWCDGFCSSR·GRRV···EL···········GCAATCPTVKPGVDIQ·CCSTDNCNPFPTRP</text>
<text class="sb" x="951.36" y="1646">IRCFITPDVT···STDCPNGHV·CYTKTWCDGFCSSR·GRRV···EL···········GCAATCPTVKPGVDIQ·CCSTDNCNPFPTRP</text>
<text class="sb" x="951.36" y="1737.6">LECHNQQSSQAPTTTGCSGGETNCYKKGWRDH····R·GYRI···ER···········GCG··CPSVKKGIEIN·CCTTDRCNN·····</text>
<text class="sb" x="951.36" y="1783.4">LECHNQQSSQAPTTTGCSGGETNCYKKGWRDH····R·GYRI···ER···········GCG··CPSVKKGIEIN·CCTTDRCNN·····</text>
<text class="sb" x="951.36" y="1875">LELTNAPDSW····SSRRT····CLCPAWVPL····R·SRPVAGHSKQCGSRGRRVDLGCAATCPIVKPGVNIN·CCSTDNCNPFPKRS</text>
<text class="sb" x="951.36" y="1920.8">LELQNASENW····RSCRT····CLCPAWVPL····R·SRPVAGHSK···········QC·····························</text>
<text class="sb" x="951.36" y="1966.6">LELPNAPENW····RSHRT····CLCSAWVSL····G·SCPVARHSK···········QC·····························</text>
<text class="sb" x="951.36" y="2058.2">LTCLNCPEMFCGKFQTCRNGEKICFKK··LQQ····R·RPFSLRYIR···········GCAATCPGTKPRDMVE·CCSTDRCNR·····</text>
<text class="sb" x="951.36" y="2104">LTCLNCPEMFCGKFQTCRNGEKICFKK··LQQ····R·RPFSLRYIR···········GCAATCPGTKPRDMVE·CCSTDRCNR·····</text>
</g>
<g id="labels-b">
<text class="lab" x="227" y="1010.9">Q9PST4_Cytotoxin_2a</text>
<text class="lab" x="227" y="1056.7">NSM_FTX01</text>
<text class="lab" x="227" y="1148.3">Q9DEQ3_Neurotoxin_homolog_NL1</text>
<text class="lab" x="227" y="1194.1">NSM_FTX02</text>
<text class="lab" x="227" y="1285.7">Q91996_Cardiotoxin_7</text>
<text class="lab" x="227" y="1331.5">NSM_FTX03</text>
<text class="lab" x="227" y="1377.3">NSM_FTX04</text>
<text class="lab" x="227" y="1468.9">P82462_Muscarinic_toxin-like_protein</text>
<text class="lab" x="227" y="1514.7">NSM_FTX05</text>
<text class="lab" x="227" y="1606.3">O42257_Long_neurotoxin_7</text>
<text class="lab" x="227" y="1652.1">NSM_FTX06</text>
<text class="lab" x="227" y="1743.7">O57327_Alpha-neurotoxin_NTX-4</text>
<text class="lab" x="227" y="1789.5">NSM_FTX07</text>
<text class="lab" x="227" y="1881.1">Q53B55_Long_neurotoxin-like_OH-31</text>
<text class="lab" x="227" y="1926.9">NSM_FTX08</text>
<text class="lab" x="227" y="1972.7">NSM_FTX09</text>
<text class="lab" x="227" y="2064.3">O42255_Weak_neurotoxin_5</text>
<text class="lab" x="227" y="2110.1">NSM_FTX10</text>
</g>
<g id="ruler-b">
<path class="tk" d="M1224.8 960v10M1518.6 960v10M1812.4 960v10M2106.2 960v10M2400 960v10M2693.8 960v10M2987.6 960v10M3281.4 960v10M1077.9 963v7M1371.7 963v7M1665.5 963v7M1959.3 963v7M2253.1 963v7M2546.9 963v7M2840.7 963v7M3134.5 963v7"/>
<text class="num" x="1224.8" y="951">10</text>
<text class="num" x="1518.6" y="951">20</text>
<text class="num" x="1812.4" y="951">30</text>
<text class="num" x="2106.2" y="951">40</text>
<text class="num" x="2400" y="951">50</text>
<text class="num" x="2693.8" y="951">60</text>
<text class="num" x="2987.6" y="951">70</text>
<text class="num" x="3281.4" y="951">80</text>
</g>
</g>
</svg>
